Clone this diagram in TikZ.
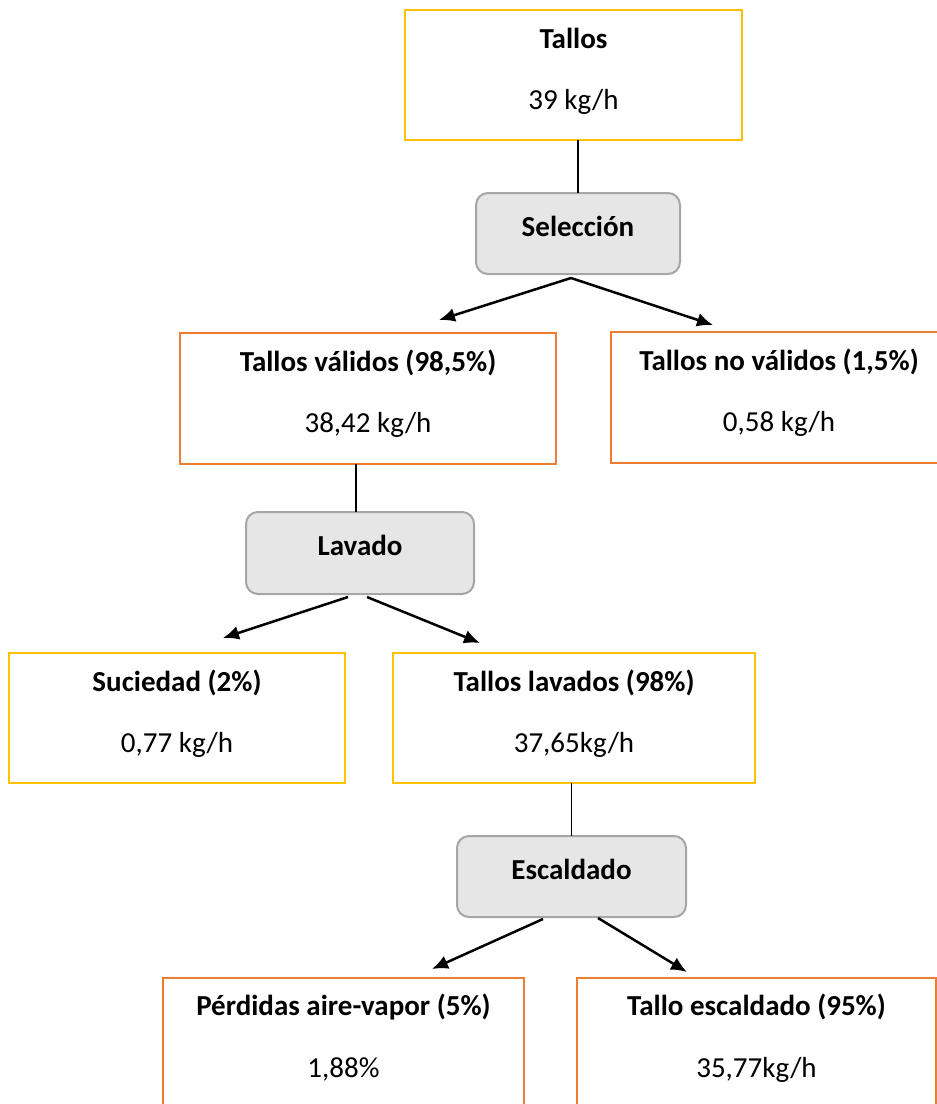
\documentclass[tikz,border=0pt]{standalone}
\usepackage{fontspec}
\setmainfont{Carlito}
\usetikzlibrary{arrows.meta}
\definecolor{boxgold}{HTML}{FFC000}
\definecolor{boxorange}{HTML}{ED7D31}
\definecolor{stepfill}{HTML}{E6E6E6}
\definecolor{stepline}{HTML}{A6A6A6}
\begin{document}
\begin{tikzpicture}[x=1pt,y=-1pt,
  every node/.style={inner sep=0pt, outer sep=0pt},
  flowbox/.style={rectangle, line width=2pt, fill=white},
  goldbox/.style={flowbox, draw=boxgold},
  orangebox/.style={flowbox, draw=boxorange},
  stepbox/.style={rectangle, draw=stepline, fill=stepfill, line width=2pt,
    rounded corners=12pt},
  titletext/.style={anchor=base, font=\fontsize{29}{34}\selectfont\bfseries},
  valuetext/.style={anchor=base, font=\fontsize{29}{34}\selectfont},
  link/.style={draw=black, line width=1.2pt},
  flow/.style={draw=black, line width=2.5pt, -{Latex[length=16pt,width=14pt]}}
]
\useasboundingbox (0,0) rectangle (937,1104);
\clip (0,0) rectangle (937,1104);

% material boxes and process steps
\node[goldbox, minimum width=337pt, minimum height=130pt] (tallos) at (573.5,75) {};
\node[stepbox, minimum width=204pt, minimum height=81pt] (sel) at (578,233.5) {};
\node[orangebox, minimum width=376pt, minimum height=131pt] (validos) at (368,398.5) {};
\node[orangebox, minimum width=336pt, minimum height=131pt] (novalidos) at (779,397.5) {};
\node[stepbox, minimum width=228pt, minimum height=82pt] (lavado) at (360,553) {};
\node[goldbox, minimum width=336pt, minimum height=130pt] (suciedad) at (177,718) {};
\node[goldbox, minimum width=362pt, minimum height=130pt] (lavados) at (574,718) {};
\node[stepbox, minimum width=229pt, minimum height=81pt] (escaldado) at (571.5,876.5) {};
\node[orangebox, minimum width=361pt, minimum height=130pt] (perdidas) at (343.5,1043) {};
\node[orangebox, minimum width=359pt, minimum height=130pt] (escaldo) at (756.5,1043) {};

% box texts
\node[titletext] (tallosT) at ([yshift=-38.5pt]tallos.north) {Tallos};
\node[valuetext] (tallosV) at ([yshift=-99pt]tallos.north) {39 kg/h};
\node[titletext] (selT) at ([yshift=-43.5pt]sel.north) {Selección};
\node[titletext] (validosT) at ([yshift=-38.5pt]validos.north) {Tallos válidos (98,5\%)};
\node[valuetext] (validosV) at ([yshift=-99pt]validos.north) {38,42 kg/h};
\node[titletext] (novalidosT) at ([yshift=-38.5pt]novalidos.north) {Tallos no válidos (1,5\%)};
\node[valuetext] (novalidosV) at ([yshift=-99pt]novalidos.north) {0,58 kg/h};
\node[titletext] (lavadoT) at ([yshift=-43pt]lavado.north) {Lavado};
\node[titletext] (suciedadT) at ([yshift=-38.5pt]suciedad.north) {Suciedad (2\%)};
\node[valuetext] (suciedadV) at ([yshift=-99pt]suciedad.north) {0,77 kg/h};
\node[titletext] (lavadosT) at ([yshift=-38.5pt]lavados.north) {Tallos lavados (98\%)};
\node[valuetext] (lavadosV) at ([yshift=-99pt]lavados.north) {37,65kg/h};
\node[titletext] (escaldadoT) at ([yshift=-43pt]escaldado.north) {Escaldado};
\node[titletext] (perdidasT) at ([yshift=-37.5pt]perdidas.north) {Pérdidas aire-vapor (5\%)};
\node[valuetext] (perdidasV) at ([yshift=-99pt]perdidas.north) {1,88\%};
\node[titletext] (escaldoT) at ([yshift=-37.5pt]escaldo.north) {Tallo escaldado (95\%)};
\node[valuetext] (escaldoV) at ([yshift=-99pt]escaldo.north) {35,77kg/h};

% feed lines into each step
\draw[link] (sel.north) -- (sel.north |- tallos.south);
\draw[link] ([xshift=-4pt]lavado.north) -- ([xshift=-4pt]lavado.north |- validos.south);
\draw[link] (escaldado.north) -- (escaldado.north |- lavados.south);

% output arrows of each step
\coordinate (selOut) at ([xshift=-7pt,yshift=-4pt]sel.south);
\coordinate (validosIn) at (439,320);
\coordinate (novalidosIn) at (713,325);
\draw[flow] (selOut) -- (validosIn);
\draw[flow] (selOut) -- (novalidosIn);

\coordinate (lavadoOutL) at ([xshift=-12pt,yshift=-3pt]lavado.south);
\coordinate (lavadoOutR) at ([xshift=7pt,yshift=-3pt]lavado.south);
\coordinate (suciedadIn) at (223,638);
\coordinate (lavadosIn) at (480,643);
\draw[flow] (lavadoOutL) -- (suciedadIn);
\draw[flow] (lavadoOutR) -- (lavadosIn);

\coordinate (escaldadoOutL) at ([xshift=-28.5pt,yshift=-2pt]escaldado.south);
\coordinate (escaldadoOutR) at ([xshift=26.5pt,yshift=-1pt]escaldado.south);
\coordinate (perdidasIn) at (432,969);
\coordinate (escaldoIn) at (687,972);
\draw[flow] (escaldadoOutL) -- (perdidasIn);
\draw[flow] (escaldadoOutR) -- (escaldoIn);
\end{tikzpicture}
\end{document}
